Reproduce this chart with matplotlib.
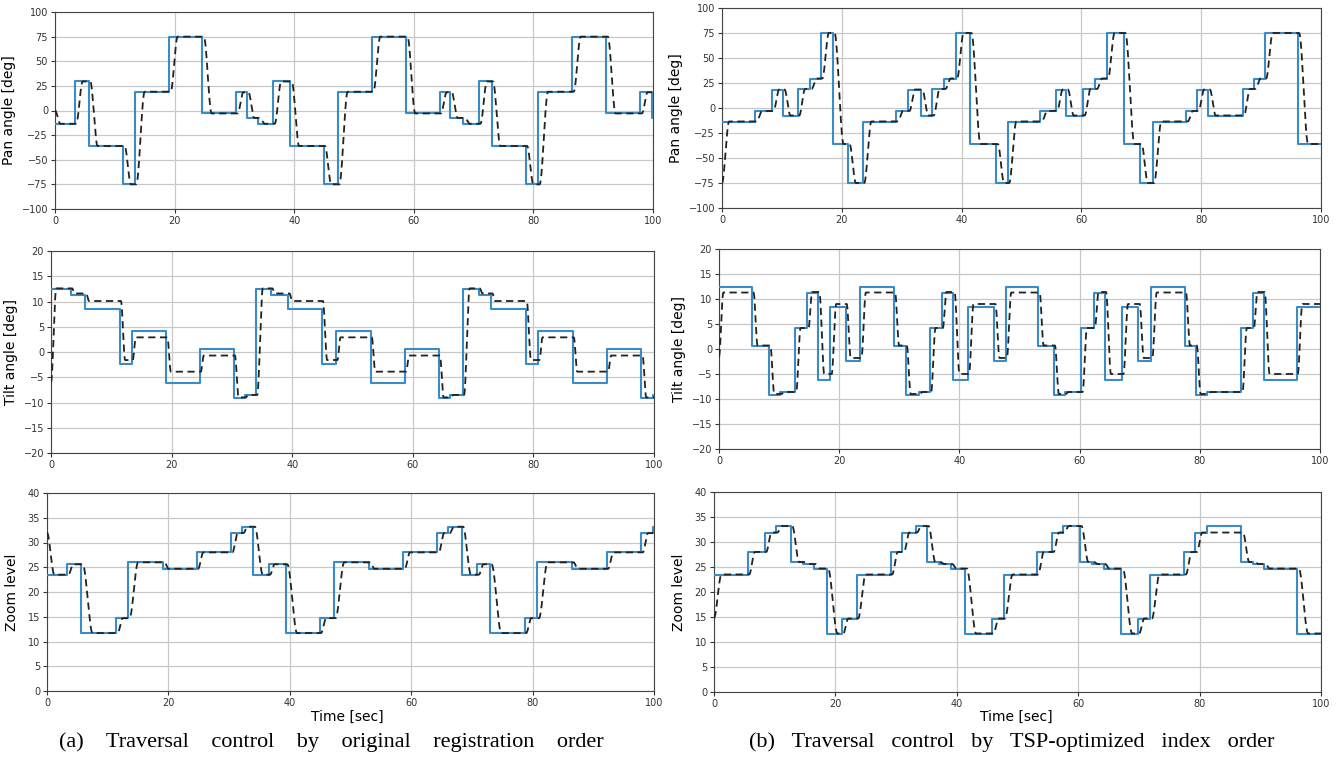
import numpy as np
import matplotlib.pyplot as plt

# camera presets (pan deg, tilt deg, zoom level), index 1..9
PAN = [-13.5, 29.5, -36.0, -75.0, 19.0, 75.0, -3.0, 18.5, -7.5]
TILT = [12.5, 11.3, 8.5, -2.3, 4.2, -6.1, 0.6, -9.1, -8.5]
ZOOM = [23.5, 25.6, 11.7, 14.7, 26.0, 24.7, 28.0, 31.9, 33.2]

# measured (dashed) levels reached at each preset
TILT_RESP_A = [12.6, 11.6, 10.1, -1.6, 2.9, -3.9, -0.7, -9.0, -8.5]
TILT_RESP_B = [11.3, 11.4, 9.0, -1.8, 4.2, -5.0, 0.7, -9.0, -8.6]

# (a) original registration order
order_a = [1, 2, 3, 4, 5, 6, 7, 8, 9,
           1, 2, 3, 4, 5, 6, 7, 8, 9,
           1, 2, 3, 4, 5, 6, 7, 8, 9]
switch_a = [0, 3.3, 5.65, 11.4, 13.35, 19.1, 24.65, 30.3, 32.1,
            34.0, 36.5, 39.35, 44.9, 47.3, 53.0, 58.7, 64.3, 66.1,
            68.3, 70.9, 73.0, 78.7, 80.8, 86.5, 92.2, 97.9, 99.8]

# (b) TSP-optimized index order
order_b = [1, 7, 8, 9, 5, 2, 6, 3, 4,
           1, 7, 8, 9, 5, 2, 6, 3, 4,
           1, 7, 8, 9, 5, 2, 6, 3, 4,
           1, 7, 8, 9, 5, 2, 6, 3]
switch_b = [0, 5.55, 8.35, 10.2, 12.65, 14.7, 16.5, 18.55, 21.05,
            23.5, 29.1, 31.05, 33.2, 35.1, 37.05, 39.0, 41.4, 45.8,
            47.7, 53.15, 55.7, 57.5, 60.3, 62.35, 64.2, 67.1, 69.8,
            71.9, 77.5, 79.3, 81.2, 86.9, 88.8, 90.6, 96.1]

# dashed start values at t=0
init_a = {'pan': 0.0, 'tilt': -6.0, 'zoom': 32.0}
init_b = {'pan': -75.0, 'tilt': -1.5, 'zoom': 14.8}
zoom_b_hold = (30, 31.9)   # last visit of preset 9 in (b) never reaches 33.2

BLUE = '#3b8bc6'


def response(t_sw, levels, v_init, delay, d0, rate):
    """Smooth lagged follow of the step command."""
    t = np.arange(0, 100.001, 0.02)
    y = np.zeros_like(t)
    starts = [0.0] + [s + delay for s in t_sw[1:]]
    v0 = v_init
    for k, s in enumerate(starts):
        end = starts[k + 1] if k + 1 < len(starts) else 101
        dur = d0 + abs(levels[k] - v0) / rate
        m = (t >= s) & (t < end)
        u = np.clip((t[m] - s) / dur, 0, 1)
        y[m] = v0 + (levels[k] - v0) * (3 * u**2 - 2 * u**3)
        u_end = np.clip((end - s) / dur, 0, 1)
        v0 = v0 + (levels[k] - v0) * (3 * u_end**2 - 2 * u_end**3)
    return t, y


def draw(ax, t_sw, cmd, resp, v_init, delay, d0, rate):
    ax.step(list(t_sw) + [100], list(cmd) + [cmd[-1]], where='post',
            color=BLUE, lw=1.5, zorder=3)
    t, y = response(t_sw, resp, v_init, delay, d0, rate)
    ax.plot(t, y, color='#222222', lw=1.3, ls=(0, (4, 2.5)), zorder=4)
    ax.set_xlim(0, 100)
    ax.set_xticks(np.arange(0, 101, 20))
    ax.grid(True, color='#c8c8c8', lw=0.9)
    ax.tick_params(labelsize=7, colors='#333333', length=3, pad=2)
    for sp in ax.spines.values():
        sp.set_color('#444444')


fig = plt.figure(figsize=(13.39, 7.58), dpi=100)
W, H = 1339, 758


def add_axes(x0, y0, x1, y1):
    return fig.add_axes([x0 / W, 1 - y1 / H, (x1 - x0) / W, (y1 - y0) / H])


boxes = {
    ('a', 'pan'): (55, 12, 653, 209),
    ('a', 'tilt'): (51, 251, 654, 453),
    ('a', 'zoom'): (47, 493, 654, 691),
    ('b', 'pan'): (722, 8, 1321, 208),
    ('b', 'tilt'): (719, 249, 1320, 449),
    ('b', 'zoom'): (714, 492, 1321, 692),
}

for col, order, t_sw, init, tilt_resp in [('a', order_a, switch_a, init_a, TILT_RESP_A),
                                          ('b', order_b, switch_b, init_b, TILT_RESP_B)]:
    pan_cmd = [PAN[i - 1] for i in order]
    tilt_cmd = [TILT[i - 1] for i in order]
    zoom_cmd = [ZOOM[i - 1] for i in order]
    tilt_r = [tilt_resp[i - 1] for i in order]
    zoom_r = list(zoom_cmd)
    if col == 'b':
        zoom_r[zoom_b_hold[0]] = zoom_b_hold[1]

    ax = add_axes(*boxes[(col, 'pan')])
    draw(ax, t_sw, pan_cmd, pan_cmd, init['pan'], 0.25, 0.8, 160)
    ax.set_ylim(-100, 100)
    ax.set_yticks(np.arange(-100, 101, 25))
    ax.set_ylabel('Pan angle [deg]', fontsize=10, labelpad=4)

    ax = add_axes(*boxes[(col, 'tilt')])
    draw(ax, t_sw, tilt_cmd, tilt_r, init['tilt'], 0.2, 0.4, 40)
    ax.set_ylim(-20, 20)
    ax.set_yticks(np.arange(-20, 21, 5))
    ax.set_ylabel('Tilt angle [deg]', fontsize=10, labelpad=4)

    ax = add_axes(*boxes[(col, 'zoom')])
    draw(ax, t_sw, zoom_cmd, zoom_r, init['zoom'], 0.25, 0.6, 14)
    ax.set_ylim(0, 40)
    ax.set_yticks(np.arange(0, 41, 5))
    ax.set_ylabel('Zoom level', fontsize=10, labelpad=6)

fig.text(347 / W, 1 - 717 / H, 'Time [sec]', fontsize=10, ha='center', va='center')
fig.text(1016 / W, 1 - 717 / H, 'Time [sec]', fontsize=10, ha='center', va='center')
fig.text(331 / W, 1 - 742 / H, '(a)    Traversal    control    by    original    registration    order',
         fontsize=16, family='Liberation Serif', ha='center', va='center')
fig.text(1012 / W, 1 - 742 / H, '(b)   Traversal   control   by   TSP-optimized   index   order',
         fontsize=16, family='Liberation Serif', ha='center', va='center')

fig.savefig('out.png', dpi=100)
